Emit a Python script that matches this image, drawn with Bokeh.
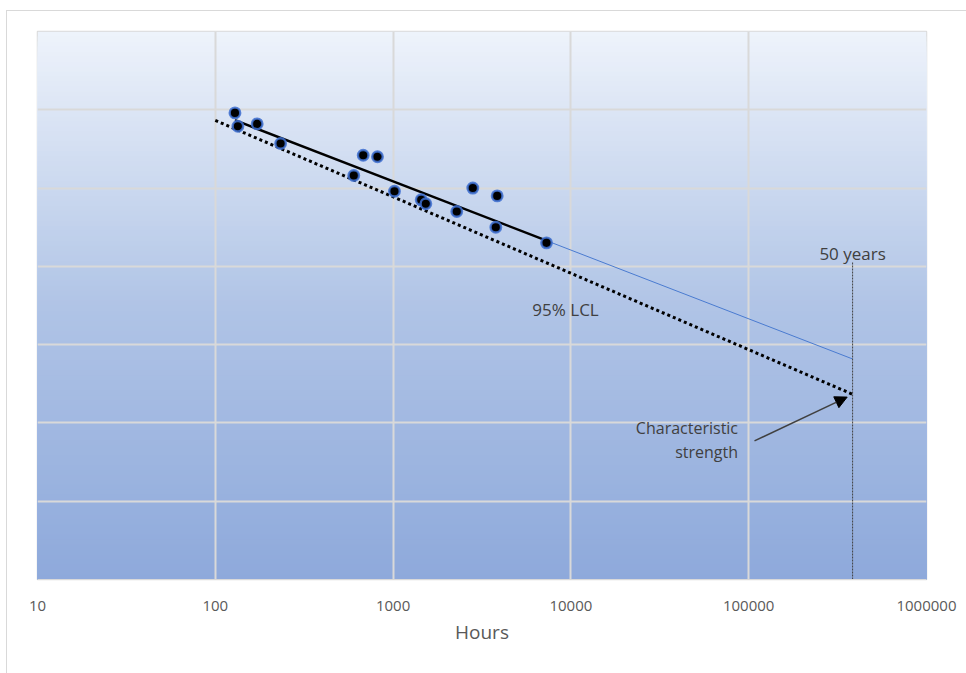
import numpy as np
from bokeh.plotting import figure
from bokeh.models import FixedTicker, BoxAnnotation, Arrow, NormalHead, ColumnDataSource
from bokeh.embed import file_html
from bokeh.resources import INLINE
from bokeh.core.properties import value

# ---- data ----
hours = [129, 134, 172, 233, 601, 679, 817, 1018, 1439, 1528, 2281, 2807, 3850, 3782, 7292]
strength = [59.6, 57.9, 58.2, 55.7, 51.6, 54.2, 54.0, 49.6, 48.5, 48.0, 47.0, 50.0, 49.0, 45.0, 43.0]

x_ticks = [10, 100, 1000, 10000, 100000, 1000000]
x_tick_labels = ["10", "100", "1000", "10000", "100000", "1000000"]
y_grid = [0, 10, 20, 30, 40, 50, 60, 70]

# regression and lower confidence limit: strength = a + b*log10(hours)
fit_a, fit_b = 77.2, -8.78
lcl_a, lcl_b = 78.16, -9.76
lcl_start_hours = 100
design_life_hours = 384000      # "50 years"
design_marker_top = 40.5

lcl_label = ("95% LCL", 9330, 34.5)
years_label = ("50 years", 384000, 41.6)
char_labels = ["Characteristic", "strength"]
char_label_x = 87100
char_label_y = [19.3, 16.3]
arrow_start = (107800, 17.7)
arrow_end = (358000, 23.3)

FONT = "Open Sans"
TXT = "#404040"

p = figure(width=959, height=662, x_axis_type="log", x_range=(10, 1e6), y_range=(0, 70),
           output_backend="svg", toolbar_location=None,
           min_border_left=30, min_border_top=20, min_border_right=40, min_border_bottom=94)
p.frame_width = 889
p.frame_height = 548
p.styles = {"border-left": "1px solid #d9d9d9", "border-top": "1px solid #d9d9d9",
            "margin-left": "6px", "margin-top": "10px"}
p.background_fill_color = "white"
p.border_fill_color = "white"
p.outline_line_color = "#d9d9d9"
p.outline_line_width = 1.5

# gradient background (top light -> bottom blue), overlapping bands to avoid seams
stops = [(0.0, (238, 243, 251)), (0.5, (176, 196, 230)), (1.0, (142, 169, 219))]
def grad(t):
    for (t0, c0), (t1, c1) in zip(stops[:-1], stops[1:]):
        if t <= t1:
            f = (t - t0) / (t1 - t0)
            return tuple(int(round(a + (b - a) * f)) for a, b in zip(c0, c1))
    return stops[-1][1]
n = 110
edges = np.linspace(70, 0, n + 1)
for i in range(n):
    r, g, b = grad((i + 0.5) / n)
    p.add_layout(BoxAnnotation(top=edges[i], bottom=0, fill_color=f"#{r:02x}{g:02x}{b:02x}",
                               fill_alpha=1, line_alpha=0, line_width=0, level="image"))

# grid
p.xgrid.ticker = FixedTicker(ticks=x_ticks)
p.ygrid.ticker = FixedTicker(ticks=y_grid)
p.grid.grid_line_color = "#d9d9d9"
p.grid.grid_line_width = 2
p.xgrid.minor_grid_line_color = None

# axes
p.yaxis.visible = False
ax = p.xaxis[0]
ax.ticker = FixedTicker(ticks=x_ticks, minor_ticks=[])
ax.major_label_overrides = {t: l for t, l in zip(x_ticks, x_tick_labels)}
ax.axis_line_color = "#d9d9d9"
ax.major_tick_line_color = None
ax.minor_tick_line_color = None
ax.major_label_text_font = FONT
ax.major_label_text_font_size = "15px"
ax.major_label_text_color = "#595959"
ax.major_label_standoff = 15
ax.axis_label = "Hours"
ax.axis_label_text_font = FONT
ax.axis_label_text_font_size = "19px"
ax.axis_label_text_font_style = "normal"
ax.axis_label_text_color = "#595959"
ax.axis_label_standoff = 5

# fitted lines
hmin, hmax = min(hours), max(hours)
fit_x = [hmin, hmax]
fit_y = [fit_a + fit_b * np.log10(h) for h in fit_x]
ext_x = [hmax, design_life_hours]
ext_y = [fit_a + fit_b * np.log10(h) for h in ext_x]
lcl_x = [lcl_start_hours, design_life_hours]
lcl_y = [lcl_a + lcl_b * np.log10(h) for h in lcl_x]

p.line(ext_x, ext_y, line_color="#4a7bd0", line_width=1)
p.line(lcl_x, lcl_y, line_color="black", line_width=3, line_dash="3 3")
p.line(fit_x, fit_y, line_color="black", line_width=2.5)

# 50-year marker
p.segment(x0=[design_life_hours], y0=[0], x1=[design_life_hours], y1=[design_marker_top],
          line_color="#404040", line_width=1, line_dash="2 1")

# data points
src = ColumnDataSource(dict(hours=hours, strength=strength))
p.scatter("hours", "strength", source=src, size=10.5, fill_color="black",
          line_color="#3d6fd0", line_width=2.4, line_alpha=0.85)

# texts
p.text(x=[lcl_label[1]], y=[lcl_label[2]], text=[lcl_label[0]], text_font=value(FONT),
       text_font_size="17px", text_color=TXT, text_align="center", text_baseline="middle")
p.text(x=[years_label[1]], y=[years_label[2]], text=[years_label[0]], text_font=value(FONT),
       text_font_size="17px", text_color=TXT, text_align="center", text_baseline="middle")
p.text(x=[char_label_x] * 2, y=char_label_y, text=char_labels, text_font=value(FONT),
       text_font_size="16px", text_color=TXT, text_align="right", text_baseline="middle")

p.add_layout(Arrow(end=NormalHead(size=12, fill_color="black", line_color="black"),
                   x_start=arrow_start[0], y_start=arrow_start[1],
                   x_end=arrow_end[0], y_end=arrow_end[1],
                   line_color="#404040", line_width=1.5))

open("out.html", "w").write(file_html(p, INLINE))
